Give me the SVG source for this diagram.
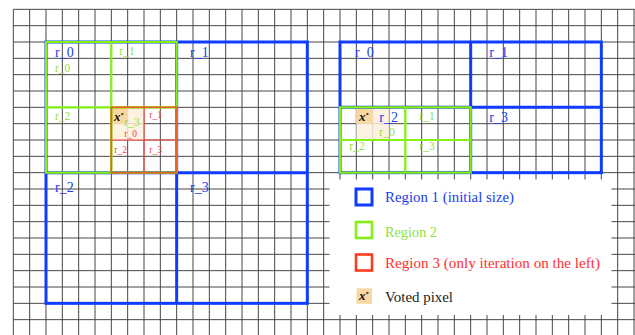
<svg xmlns="http://www.w3.org/2000/svg" width="635" height="335" viewBox="0 0 635 335">
<style>
.grid{stroke:#474747;stroke-width:1;fill:none}
.blue{stroke:#0f3cff;stroke-width:3;fill:none}
.green{stroke:#84f014;stroke-width:2.2;fill:none}
.redo{stroke:#e2651c;stroke-width:1.8;fill:none}
.red{stroke:#ff4a40;stroke-width:1.2;fill:none}
.t{font-family:"Liberation Serif","DejaVu Serif",serif}
.tb{fill:#1a3cf0;font-size:14px}
.tg{fill:#8ee23c;font-size:11.5px}
.tr{fill:#ff4040;font-size:9.5px}
.lt{font-size:14.5px}
.x{font-family:"Liberation Serif",serif;font-weight:bold;font-style:italic;font-size:13px;fill:#111}
.voted{fill:#f9d7a2}
.vlight{fill:#fdeedd;opacity:0.85}
</style>
<rect width="635" height="335" fill="#ffffff"/>
<g id="grid">
<path class="grid" d="M13.33 9.33V335M29.67 9.33V335M46 9.33V335M62.33 9.33V335M78.67 9.33V335M95 9.33V335M111.33 9.33V335M127.67 9.33V335M144 9.33V335M160.33 9.33V335M176.67 9.33V335M193 9.33V335M209.33 9.33V335M225.67 9.33V335M242 9.33V335M258.33 9.33V335M274.67 9.33V335M291 9.33V335M307.33 9.33V335M323.67 9.33V335M340 9.33V335M356.33 9.33V335M372.67 9.33V335M389 9.33V335M405.33 9.33V335M421.67 9.33V335M438 9.33V335M454.33 9.33V335M470.67 9.33V335M487 9.33V335M503.33 9.33V335M519.67 9.33V335M536 9.33V335M552.33 9.33V335M568.67 9.33V335M585 9.33V335M601.33 9.33V335M617.67 9.33V335M634 9.33V335"/>
<path class="grid" d="M13.33 9.33H635M13.33 25.67H635M13.33 42H635M13.33 58.33H635M13.33 74.67H635M13.33 91H635M13.33 107.33H635M13.33 123.67H635M13.33 140H635M13.33 156.33H635M13.33 172.67H635M13.33 189H635M13.33 205.33H635M13.33 221.67H635M13.33 238H635M13.33 254.33H635M13.33 270.67H635M13.33 287H635M13.33 303.33H635M13.33 319.67H635"/>
</g>
<rect x="329.5" y="179.5" width="282" height="135.5" fill="#ffffff"/>
<g id="left-diagram">
<g id="left-voted">
<rect class="vlight" x="111.33" y="107.33" width="32.67" height="32.67"/>
<rect class="voted" x="111.33" y="107.33" width="16.33" height="16.33"/>
</g>
<g id="left-region1">
<rect class="blue" x="46" y="42" width="261.33" height="261.33"/>
<path class="blue" d="M176.67 42V303.33M46 172.67H307.33"/>
</g>
<g id="left-region2">
<rect class="green" x="46" y="42" width="130.67" height="130.67"/>
<path class="green" d="M111.33 42V172.67M46 107.33H176.67"/>
</g>
<g id="left-region3">
<path class="red" d="M144 107.33V172.67M111.33 140H176.67"/>
<rect class="redo" x="111.33" y="107.33" width="65.33" height="65.33"/>
</g>
<text class="x" x="114" y="121">x<tspan font-size="6" dy="-4">*</tspan></text>
<g class="t">
<text class="tb" x="55" y="56.5">r_0</text>
<text class="tb" x="190" y="56.5">r_1</text>
<text class="tb" x="55" y="191.5">r_2</text>
<text class="tb" x="190" y="191.5">r_3</text>
<text class="tg" x="55" y="71.5">r_0</text>
<text class="tg" x="119.3" y="55">r_1</text>
<text class="tg" x="55" y="120">r_2</text>
<text class="tg" x="124.3" y="125.5">r_3</text>
<text class="tr" x="124.3" y="136.5">r_0</text>
<text class="tr" x="149.3" y="118.3">r_1</text>
<text class="tr" x="114.3" y="152.5">r_2</text>
<text class="tr" x="149.3" y="152.5">r_3</text>
</g>
</g>
<g id="right-diagram">
<g id="right-voted">
<rect class="vlight" x="356.33" y="107.33" width="32.67" height="32.67"/>
<rect class="voted" x="356.33" y="107.33" width="16.33" height="16.33"/>
</g>
<g id="right-region1">
<rect class="blue" x="340" y="42" width="261.33" height="130.67"/>
<path class="blue" d="M470.67 42V172.67M340 107.33H601.33"/>
</g>
<g id="right-region2">
<rect class="green" x="340" y="107.33" width="130.67" height="65.33"/>
<path class="green" d="M405.33 107.33V172.67M340 140H470.67"/>
</g>
<text class="x" x="359" y="121">x<tspan font-size="6" dy="-4">*</tspan></text>
<g class="t">
<text class="tb" x="355" y="56.5">r_0</text>
<text class="tb" x="489.3" y="56.5">r_1</text>
<text class="tb" x="379.3" y="121.5">r_2</text>
<text class="tb" x="489.3" y="121.5">r_3</text>
<text class="tg" x="379.3" y="136">r_0</text>
<text class="tg" x="419.3" y="120">r_1</text>
<text class="tg" x="349.3" y="150">r_2</text>
<text class="tg" x="419.3" y="150">r_3</text>
</g>
</g>
<g id="legend">
<rect x="356" y="189" width="16" height="16" fill="none" stroke="#0f3cff" stroke-width="3"/>
<rect x="356" y="222" width="16" height="16" fill="none" stroke="#84f014" stroke-width="2.6"/>
<rect x="356" y="254.5" width="16" height="16" fill="none" stroke="#ff3a20" stroke-width="2.6"/>
<rect x="356.5" y="288.3" width="15.5" height="15.5" fill="#f9d7a2"/>
<text class="x" x="359" y="300">x<tspan font-size="6" dy="-4">*</tspan></text>
<g class="t lt">
<text x="385" y="201.5" fill="#1a3cf0" textLength="129" lengthAdjust="spacingAndGlyphs">Region 1 (initial size)</text>
<text x="385" y="236.5" fill="#8ee23c" textLength="52" lengthAdjust="spacingAndGlyphs">Region 2</text>
<text x="385" y="267.5" fill="#ff3030" textLength="215" lengthAdjust="spacingAndGlyphs">Region 3 (only iteration on the left)</text>
<text x="385" y="301.5" fill="#222222" textLength="68" lengthAdjust="spacingAndGlyphs">Voted pixel</text>
</g>
</g>
</svg>
